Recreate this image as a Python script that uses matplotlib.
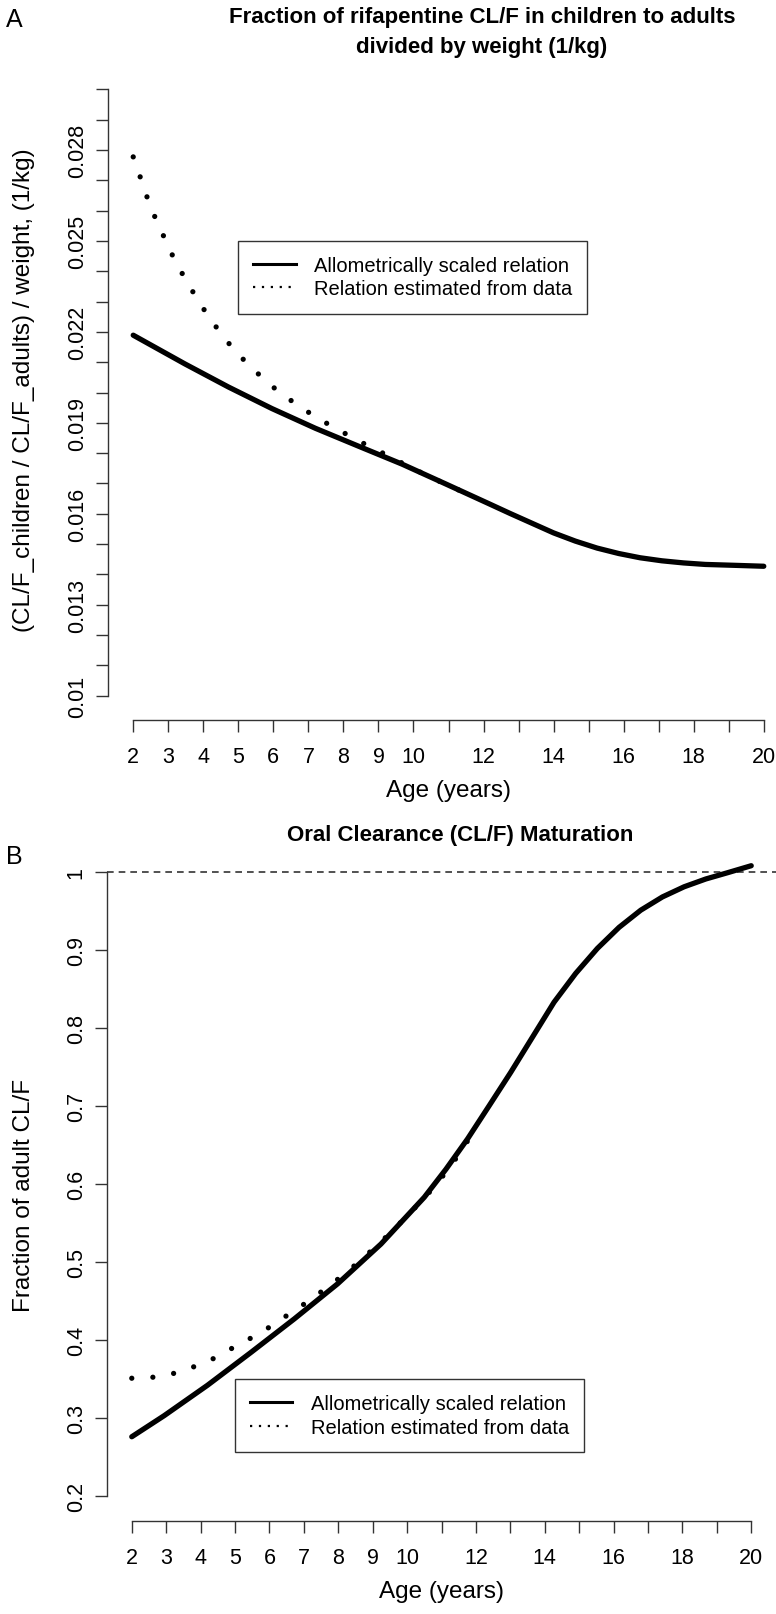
import matplotlib.pyplot as plt
from matplotlib.lines import Line2D

W, H = 776, 1615

# panel A: (CL/F children / CL/F adults) / weight
age_a_allo = [2.0, 3.48, 4.72, 5.96, 7.20, 8.43, 9.67, 10.91, 12.14, 12.76, 13.38, 14.0, 14.62,
              15.24, 15.86, 16.47, 17.09, 17.71, 18.33, 19.19, 20.0]
val_a_allo = [0.02189, 0.02094, 0.02018, 0.01947, 0.01882, 0.01823, 0.01764, 0.01699, 0.01634,
              0.01601, 0.01569, 0.01537, 0.01510, 0.01487, 0.01469, 0.01455, 0.01445, 0.01438,
              0.01433, 0.01430, 0.01427]
age_a_data = [2.0, 2.19, 2.37, 2.58, 2.82, 3.05, 3.32, 3.60, 3.90, 4.23, 4.57, 4.94, 5.34,
              5.77, 6.22, 6.69, 7.17, 7.68, 8.19, 8.69, 9.20, 9.73, 10.25, 10.78, 11.28, 11.80]
val_a_data = [0.02777, 0.02714, 0.02652, 0.02589, 0.02528, 0.02468, 0.02408, 0.02352, 0.02294,
              0.02238, 0.02184, 0.02133, 0.02086, 0.02040, 0.01996, 0.01959, 0.01922, 0.01888,
              0.01856, 0.01825, 0.01796, 0.01764, 0.01734, 0.01705, 0.01679, 0.01652]

# panel B: fraction of adult CL/F
age_b_allo = [2.0, 2.94, 4.20, 5.46, 6.72, 7.98, 9.24, 9.87, 10.50, 11.13, 11.76, 12.38, 13.01,
              13.64, 14.27, 14.90, 15.53, 16.16, 16.79, 17.42, 18.05, 18.68, 19.31, 20.0]
val_b_allo = [0.276, 0.303, 0.342, 0.384, 0.427, 0.472, 0.523, 0.553, 0.583, 0.619, 0.658,
              0.700, 0.743, 0.788, 0.833, 0.870, 0.902, 0.929, 0.951, 0.968, 0.981, 0.991,
              0.999, 1.008]
age_b_data = [2.0, 2.57, 3.13, 3.70, 4.24, 4.77, 5.27, 5.78, 6.28, 6.78, 7.26, 7.73, 8.19,
              8.65, 9.07, 9.51, 9.93, 10.33, 10.72, 11.09, 11.44, 11.80]
val_b_data = [0.351, 0.352, 0.356, 0.364, 0.373, 0.386, 0.398, 0.410, 0.425, 0.439, 0.454,
              0.469, 0.485, 0.502, 0.519, 0.537, 0.556, 0.574, 0.593, 0.613, 0.634, 0.658]

xticks = list(range(2, 21))
xlabels = [str(a) if (a <= 10 or a % 2 == 0) else '' for a in xticks]
a_ticks = [round(0.010 + 0.001 * i, 3) for i in range(21)]
a_labels = ['0.01' if t == 0.01 else (f'{t:.3f}' if i % 3 == 0 else '') for i, t in enumerate(a_ticks)]
b_ticks = [0.2, 0.3, 0.4, 0.5, 0.6, 0.7, 0.8, 0.9, 1.0]
b_labels = ['0.2', '0.3', '0.4', '0.5', '0.6', '0.7', '0.8', '0.9', '1']

FONT = 'Liberation Sans'
AX = '#333333'


def rect(l, t, r, b):
    return [l / W, 1 - b / H, (r - l) / W, (b - t) / H]


def setup(ax, ylo, yhi, ticks, labels):
    pad = 0.04 * (yhi - ylo)
    ax.set_xlim(2 - 0.72, 20 + 0.72)
    ax.set_ylim(ylo - pad, yhi + pad)
    for s in ['top', 'right']:
        ax.spines[s].set_visible(False)
    ax.spines['left'].set_bounds(ylo, yhi)
    ax.spines['bottom'].set_bounds(2, 20)
    for s in ['left', 'bottom']:
        ax.spines[s].set_color(AX)
        ax.spines[s].set_linewidth(1.0)
    ax.set_xticks(xticks)
    ax.set_xticklabels(xlabels, family=FONT, fontsize=15.5)
    ax.set_yticks(ticks)
    ax.set_yticklabels(labels, family=FONT, fontsize=15.5, rotation=90, va='center')
    ax.tick_params(length=8.5, width=1.0, color=AX, pad=6)
    ax.tick_params(axis='x', pad=10)
    ax.patch.set_alpha(0)


def legend(ax, x0, y0):
    handles = [Line2D([], [], color='black', lw=2.2),
               Line2D([], [], color='black', lw=1.6, linestyle=(0, (1, 3)))]
    leg = ax.legend(handles, ['Allometrically scaled relation', 'Relation estimated from data'],
                    loc='upper left', bbox_to_anchor=(x0, y0), bbox_transform=ax.transData,
                    borderaxespad=0, fancybox=False, framealpha=1, edgecolor=AX,
                    prop={'family': FONT, 'size': 14.5}, handlelength=2.1,
                    handletextpad=0.9, borderpad=0.75, labelspacing=0.22)
    leg.get_frame().set_linewidth(1.0)


dotted = dict(color='black', lw=3.8, linestyle=(0, (0.001, 4.0)), dash_capstyle='round')
solid = dict(color='black', lw=3.8, solid_capstyle='round')

fig = plt.figure(figsize=(W / 100, H / 100), dpi=100)

# ---- A ----
ax1 = fig.add_axes(rect(108, 66, 789, 721))
setup(ax1, 0.01, 0.03, a_ticks, a_labels)
ax1.plot(age_a_allo, val_a_allo, **solid)
ax1.plot(age_a_data, val_a_data, **dotted)
legend(ax1, 5.0, 0.0250)
ax1.set_xlabel('Age (years)', family=FONT, fontsize=17.5, labelpad=9)
fig.text(24 / W, 1 - 390 / H, '(CL/F_children / CL/F_adults) / weight, (1/kg)', rotation=90,
         ha='center', va='center', family=FONT, fontsize=17.5)
fig.text(482 / W, 1 - 18 / H, 'Fraction of rifapentine CL/F in children to adults',
         ha='center', va='center', fontsize=16, fontweight='bold', family=FONT)
fig.text(482 / W, 1 - 47 / H, 'divided by weight (1/kg)',
         ha='center', va='center', fontsize=16, fontweight='bold', family=FONT)
fig.text(14 / W, 1 - 20 / H, 'A', ha='center', va='center', fontsize=18, family=FONT)

# ---- B ----
ax2 = fig.add_axes(rect(107, 848, 776, 1522))
setup(ax2, 0.2, 1.0, b_ticks, b_labels)
ax2.axhline(1.0, color=AX, lw=1.2, linestyle=(0, (4, 3)))
ax2.plot(age_b_allo, val_b_allo, **solid)
ax2.plot(age_b_data, val_b_data, **dotted)
legend(ax2, 5.0, 0.350)
ax2.set_xlabel('Age (years)', family=FONT, fontsize=17.5, labelpad=9)
fig.text(24 / W, 1 - 1195 / H, 'Fraction of adult CL/F', rotation=90,
         ha='center', va='center', family=FONT, fontsize=17.5)
fig.text(460 / W, 1 - 836 / H, 'Oral Clearance (CL/F) Maturation',
         ha='center', va='center', fontsize=16, fontweight='bold', family=FONT)
fig.text(14 / W, 1 - 857 / H, 'B', ha='center', va='center', fontsize=18, family=FONT)

fig.savefig('out.png', dpi=100)
